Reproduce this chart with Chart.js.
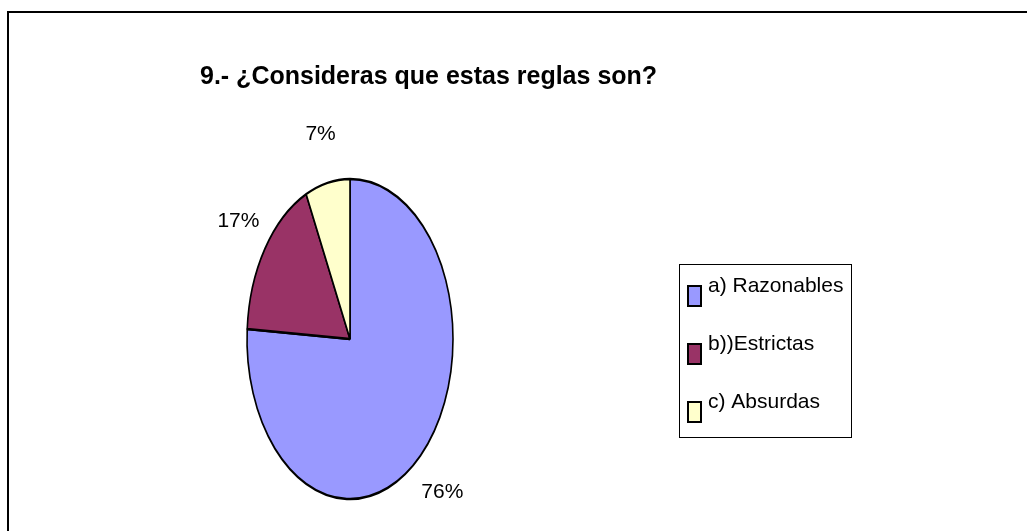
<!DOCTYPE html>
<html>
<head>
<meta charset="utf-8">
<script src="https://cdn.jsdelivr.net/npm/chart.js@4.4.0/dist/chart.umd.min.js"></script>
<style>
  html, body { margin: 0; padding: 0; background: #ffffff; }
  #wrap { width: 1027px; height: 531px; }
</style>
</head>
<body>
<div id="wrap"><canvas id="chart" width="1027" height="531"></canvas></div>
<script>
// chart data
const title = '9.- ¿Consideras que estas reglas son?';
const categories = ['a) Razonables', 'b))Estrictas', 'c) Absurdas'];
const values = [76, 17, 7];
const colors = ['#9999FF', '#993366', '#FFFFCC'];

const FONT = '"Liberation Sans", Arial, sans-serif';
const squash = 103 / 160; // pie is drawn as a tall ellipse

// squeeze the pie horizontally around its centre
const ellipsePlugin = {
    id: 'ellipse',
    beforeDatasetsDraw(chart) {
        const arc = chart.getDatasetMeta(0).data[0];
        const ctx = chart.ctx;
        ctx.save();
        ctx.translate(arc.x, arc.y);
        ctx.scale(squash, 1);
        ctx.translate(-arc.x, -arc.y);
    },
    afterDatasetsDraw(chart) {
        chart.ctx.restore();
    }
};

// title, percentage labels, legend box and outer frame
const decorPlugin = {
    id: 'decor',
    afterDraw(chart) {
        const ctx = chart.ctx;
        const meta = chart.getDatasetMeta(0);
        const total = values.reduce((a, b) => a + b, 0);

        ctx.save();
        // outer frame
        ctx.strokeStyle = '#000';
        ctx.lineWidth = 2;
        ctx.strokeRect(8, 12, 1100, 600);

        // title
        ctx.fillStyle = '#000';
        ctx.font = 'bold 25px ' + FONT;
        ctx.textBaseline = 'middle';
        ctx.textAlign = 'left';
        ctx.fillText(title, 200, 77);

        // percentage labels outside the slices
        ctx.font = '21px ' + FONT;
        ctx.textAlign = 'center';
        meta.data.forEach((arc, i) => {
            const mid = (arc.startAngle + arc.endAngle) / 2;
            const r = arc.outerRadius * 1.31;
            const x = arc.x + Math.cos(mid) * r * squash;
            const y = arc.y + Math.sin(mid) * r;
            ctx.fillText(Math.round(values[i] / total * 100) + '%', x, y);
        });

        // legend
        ctx.lineWidth = 1;
        ctx.strokeRect(679.5, 264.5, 172, 173);
        ctx.textAlign = 'left';
        categories.forEach((name, i) => {
            const top = 286 + i * 58;
            ctx.fillStyle = colors[i];
            ctx.fillRect(688, top, 13, 20);
            ctx.lineWidth = 2;
            ctx.strokeStyle = '#000';
            ctx.strokeRect(688, top, 13, 20);
            ctx.fillStyle = '#000';
            ctx.fillText(name, 708, top);
        });
        ctx.restore();
    }
};

new Chart(document.getElementById('chart'), {
    type: 'pie',
    data: {
        labels: categories,
        datasets: [{
            data: values,
            backgroundColor: colors,
            borderColor: '#000',
            borderWidth: 2.5,
        }],
    },
    options: {
        responsive: false,
        animation: false,
        radius: 160,
        layout: {
            padding: { left: 190, right: 517, top: 179, bottom: 32 },
        },
        plugins: {
            legend: { display: false },
            tooltip: { enabled: false },
        },
    },
    plugins: [ellipsePlugin, decorPlugin],
});
</script>
</body>
</html>
